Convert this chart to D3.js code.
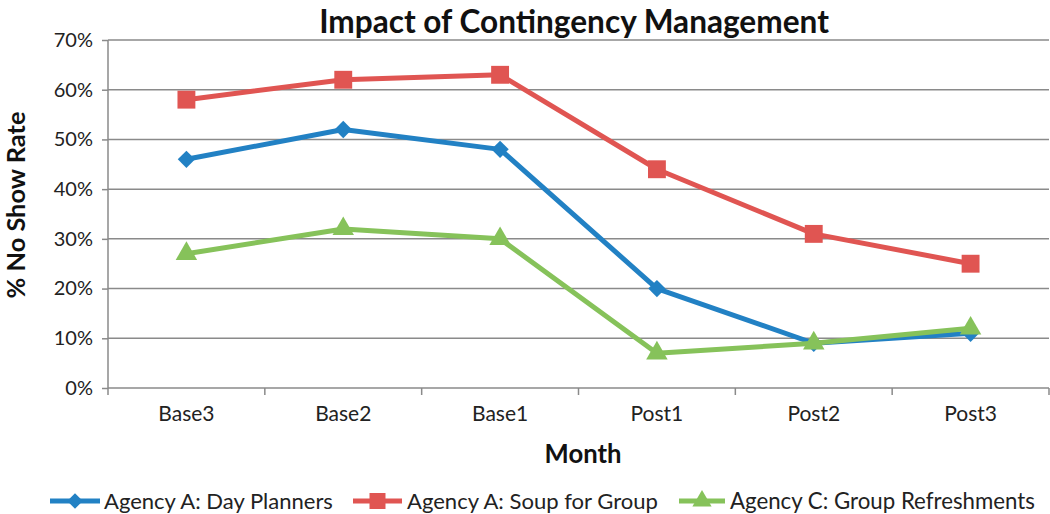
<!DOCTYPE html>
<html>
<head>
<meta charset="utf-8">
<script src="https://cdn.jsdelivr.net/npm/d3@7"></script>
<style>
  html, body { margin: 0; padding: 0; background: #fff; }
  svg { display: block; font-family: Lato, "Open Sans", sans-serif; }
</style>
</head>
<body>
<svg id="chart" width="1050" height="514"></svg>
<script>
const months = ["Base3", "Base2", "Base1", "Post1", "Post2", "Post3"];
const dayPlanners = [0.46, 0.52, 0.48, 0.20, 0.09, 0.11];
const soupForGroup = [0.58, 0.62, 0.63, 0.44, 0.31, 0.25];
const groupRefreshments = [0.27, 0.32, 0.30, 0.07, 0.09, 0.12];
const seriesNames = ["Agency A: Day Planners", "Agency A: Soup for Group", "Agency C: Group Refreshments"];
const yTicks = [0, 0.1, 0.2, 0.3, 0.4, 0.5, 0.6, 0.7];
const titleText = "Impact of Contingency Management";
const yTitle = "% No Show Rate";
const xTitle = "Month";

const series = [
  { name: seriesNames[0], values: dayPlanners, color: "#2281c4", symbol: d3.symbolSquare, size: 150, rot: 45 },
  { name: seriesNames[1], values: soupForGroup, color: "#e05552", symbol: d3.symbolSquare, size: 320, rot: 0 },
  { name: seriesNames[2], values: groupRefreshments, color: "#86c25a", symbol: d3.symbolTriangle, size: 200, rot: 0 }
];

const svg = d3.select("#chart");
const pLeft = 108, pRight = 1049, pTop = 40, pBottom = 388;

const x = d3.scaleBand().domain(months).range([pLeft, pRight]);
const y = d3.scaleLinear().domain([0, 0.7]).range([pBottom, pTop]);
const gridColor = "#8a8a8a";

function fitText(sel, target) {
  const node = sel.node();
  const fs = parseFloat(sel.attr("font-size"));
  const w = node.getComputedTextLength();
  if (w > 0) sel.attr("font-size", fs * target / w);
}

// Gridlines
svg.append("g").selectAll("line").data(yTicks.slice(1)).join("line")
  .attr("x1", pLeft).attr("x2", pRight)
  .attr("y1", d => y(d)).attr("y2", d => y(d))
  .attr("stroke", gridColor).attr("stroke-width", 1.5);

// Y axis
const yAxis = svg.append("g").attr("transform", `translate(${pLeft},0)`)
  .call(d3.axisLeft(y).tickValues(yTicks).tickFormat(d3.format(".0%")).tickSize(6).tickPadding(9));
yAxis.select(".domain").attr("stroke", gridColor).attr("stroke-width", 1.5).attr("d", `M0,${pBottom}V${pTop}`);
yAxis.selectAll(".tick line").attr("stroke", gridColor).attr("stroke-width", 1.5);
yAxis.selectAll(".tick text").attr("font-size", 20).attr("fill", "#222").attr("font-family", "Lato, sans-serif");

// X axis
const xAxis = svg.append("g").attr("transform", `translate(0,${pBottom})`)
  .call(d3.axisBottom(x).tickSize(0).tickPadding(18));
xAxis.select(".domain").attr("stroke", gridColor).attr("stroke-width", 1.5).attr("d", `M${pLeft},0H${pRight}`);
xAxis.selectAll(".tick text").attr("font-size", 21).attr("fill", "#222").attr("font-family", "Lato, sans-serif");
const bounds = months.map(m => x(m)).concat([x(months[months.length - 1]) + x.bandwidth()]);
xAxis.append("g").selectAll("line").data(bounds).join("line")
  .attr("x1", d => d).attr("x2", d => d).attr("y1", 0).attr("y2", 7)
  .attr("stroke", gridColor).attr("stroke-width", 1.5);

// Lines & markers
const line = d3.line().x((d, i) => x(months[i]) + x.bandwidth() / 2).y(d => y(d));
series.forEach(s => {
  svg.append("path").datum(s.values)
    .attr("d", line).attr("fill", "none")
    .attr("stroke", s.color).attr("stroke-width", 5).attr("stroke-linejoin", "round");
  svg.append("g").selectAll("path").data(s.values).join("path")
    .attr("d", d3.symbol().type(s.symbol).size(s.size))
    .attr("transform", (d, i) => `translate(${x(months[i]) + x.bandwidth() / 2},${y(d)}) rotate(${s.rot})`)
    .attr("fill", s.color);
});

// Title
const t = svg.append("text").attr("x", 574).attr("y", 33).attr("text-anchor", "middle")
  .attr("font-size", 30).attr("font-weight", "bold").attr("fill", "#111").text(titleText);
fitText(t, 510);

// Y title
const yt = svg.append("text").attr("transform", "translate(25,205) rotate(-90)")
  .attr("text-anchor", "middle").attr("font-size", 24).attr("font-weight", "bold").attr("fill", "#111").text(yTitle);
fitText(yt, 187);

// X title
const xt = svg.append("text").attr("x", 583).attr("y", 463).attr("text-anchor", "middle")
  .attr("font-size", 26).attr("font-weight", "bold").attr("fill", "#111").text(xTitle);
fitText(xt, 77);

// Legend
const legendPos = [
  { x1: 50, x2: 100, tx: 104, tw: 229 },
  { x1: 353, x2: 402, tx: 407, tw: 251 },
  { x1: 679, x2: 725, tx: 730, tw: 305 }
];
const ly = 501;
series.forEach((s, i) => {
  const p = legendPos[i];
  const g = svg.append("g");
  g.append("line").attr("x1", p.x1).attr("x2", p.x2).attr("y1", ly).attr("y2", ly)
    .attr("stroke", s.color).attr("stroke-width", 5);
  g.append("path").attr("d", d3.symbol().type(s.symbol).size(s.size * 0.8))
    .attr("transform", `translate(${(p.x1 + p.x2) / 2},${ly}) rotate(${s.rot})`).attr("fill", s.color);
  const tx = g.append("text").attr("x", p.tx).attr("y", ly + 8).attr("font-size", 22)
    .attr("fill", "#222").text(s.name);
  fitText(tx, p.tw);
});
</script>
</body>
</html>
